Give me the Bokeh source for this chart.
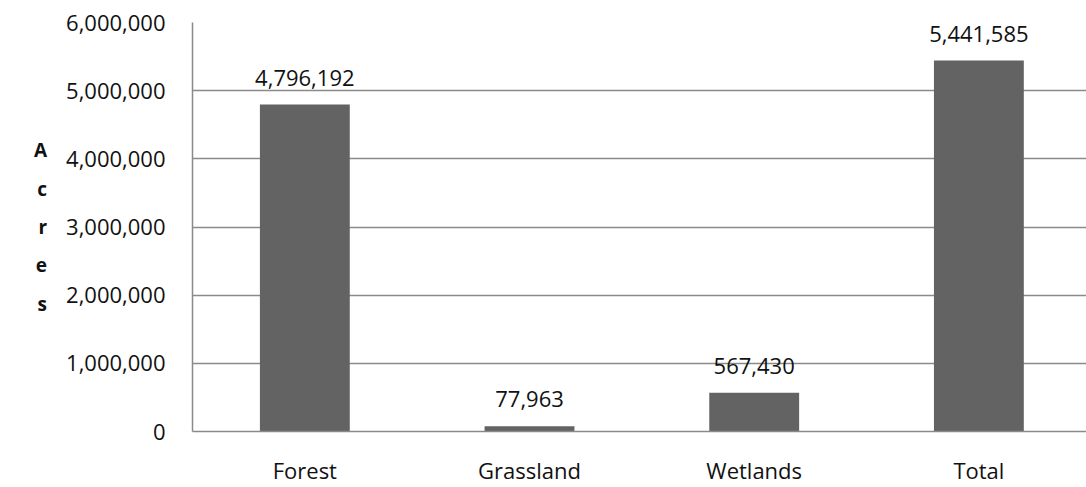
from bokeh.plotting import figure
from bokeh.models import ColumnDataSource, LabelSet, FixedTicker, NumeralTickFormatter, Range1d
from bokeh.core.properties import value
from bokeh.embed import file_html
from bokeh.resources import INLINE

categories = ["Forest", "Grassland", "Wetlands", "Total"]
acres = [4796192, 77963, 567430, 5441585]
value_labels = ["4,796,192", "77,963", "567,430", "5,441,585"]
y_ticks = [0, 1000000, 2000000, 3000000, 4000000, 5000000, 6000000]

FONT = "Open Sans"
positions = list(range(len(categories)))

source = ColumnDataSource(data=dict(x=positions, top=acres, label=value_labels))

p = figure(width=1086, height=487, output_backend="svg", toolbar_location=None,
           x_range=Range1d(-0.5, 3.479), y_range=Range1d(0, 6000000),
           min_border_left=192, min_border_right=0, min_border_top=22, min_border_bottom=56)
p.outline_line_color = None
p.background_fill_color = "white"
p.border_fill_color = "white"

p.vbar(x="x", top="top", width=0.4, bottom=0, source=source,
       fill_color="#636363", line_color=None)

# value labels above each bar
labels = LabelSet(x="x", y="top", text="label", source=source,
                  text_align="center", text_baseline="alphabetic", y_offset=19,
                  text_font=value(FONT), text_font_size=value("22px"),
                  text_color=value("#111111"))
p.add_layout(labels)

# x axis: category names under each bar
p.xaxis.ticker = FixedTicker(ticks=positions)
p.xaxis.major_label_overrides = {i: c for i, c in enumerate(categories)}
p.xaxis.major_tick_line_color = None
p.xaxis.minor_tick_line_color = None
p.xaxis.major_tick_out = 0
p.xaxis.major_tick_in = 0
p.xaxis.minor_tick_out = 0
p.xaxis.axis_line_color = "#8a8a8a"
p.xaxis.axis_line_width = 1.5
p.xaxis.major_label_standoff = 23
p.xaxis.major_label_text_font = FONT
p.xaxis.major_label_text_font_size = "22px"
p.xaxis.major_label_text_color = "#111111"

# y axis
p.yaxis.ticker = FixedTicker(ticks=y_ticks)
p.yaxis.formatter = NumeralTickFormatter(format="0,0")
p.yaxis.major_tick_line_color = None
p.yaxis.minor_tick_line_color = None
p.yaxis.major_tick_out = 0
p.yaxis.major_tick_in = 0
p.yaxis.minor_tick_out = 0
p.yaxis.axis_line_color = "#8a8a8a"
p.yaxis.axis_line_width = 1.5
p.yaxis.major_label_standoff = 27
p.yaxis.major_label_text_font = FONT
p.yaxis.major_label_text_font_size = "22px"
p.yaxis.major_label_text_color = "#111111"
p.yaxis.axis_label = "A\nc\nr\ne\ns"
p.yaxis.axis_label_orientation = "horizontal"
p.yaxis.axis_label_text_font = FONT
p.yaxis.axis_label_text_font_style = "bold"
p.yaxis.axis_label_text_font_size = "19px"
p.yaxis.axis_label_text_line_height = 1.48
p.yaxis.axis_label_text_align = "center"
p.yaxis.axis_label_standoff = 16
p.yaxis.axis_label_text_color = "#111111"

p.xgrid.grid_line_color = None
p.ygrid.grid_line_color = "#8a8a8a"
p.ygrid.grid_line_width = 1.5

open("out.html", "w").write(file_html(p, INLINE))
